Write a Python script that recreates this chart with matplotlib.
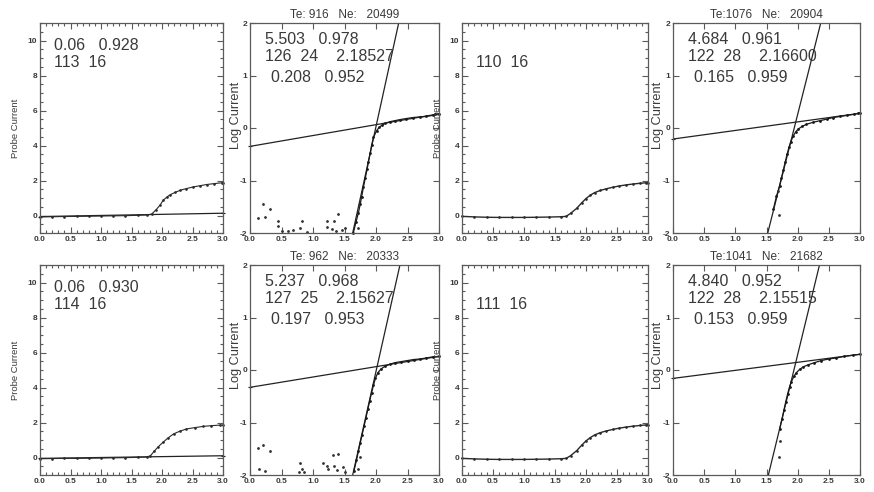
import matplotlib
matplotlib.use("Agg")
import matplotlib.pyplot as plt
from matplotlib.ticker import MultipleLocator, NullLocator

plt.rcParams['font.family'] = ['Liberation Sans', 'DejaVu Sans']
plt.rcParams['axes.unicode_minus'] = False

W, H = 874, 492

# ---------------- data ----------------
# Row 1, column 1 : probe current
lin_a_x = [0.0, 0.2, 0.4, 0.6, 0.8, 1.0, 1.2, 1.4, 1.6, 1.75, 1.83, 1.90, 1.97, 2.02, 2.08, 2.13, 2.22, 2.30, 2.40, 2.51, 2.62, 2.73, 2.85, 2.98, 3.0]
lin_a_y = [-0.08, -0.07, -0.06, -0.05, -0.04, -0.03, -0.02, -0.01, 0.01, 0.03, 0.08, 0.32, 0.60, 0.88, 1.05, 1.18, 1.33, 1.44, 1.54, 1.63, 1.70, 1.77, 1.82, 1.87, 1.88]
fit_a_x = [0.0, 3.0]
fit_a_y = [-0.06, 0.13]

# Row 1, column 3 : probe current
lin_c_x = [0.0, 0.2, 0.4, 0.6, 0.8, 1.0, 1.2, 1.4, 1.6, 1.68, 1.75, 1.85, 1.93, 2.0, 2.07, 2.14, 2.23, 2.33, 2.44, 2.54, 2.65, 2.76, 2.87, 2.97, 3.0]
lin_c_y = [-0.05, -0.08, -0.10, -0.11, -0.11, -0.11, -0.10, -0.09, -0.07, -0.05, 0.12, 0.41, 0.72, 0.97, 1.16, 1.31, 1.43, 1.53, 1.62, 1.69, 1.75, 1.80, 1.84, 1.87, 1.88]

# Row 2, column 1 : probe current
lin_e_x = [0.0, 0.2, 0.4, 0.6, 0.8, 1.0, 1.2, 1.4, 1.6, 1.75, 1.81, 1.87, 1.94, 2.02, 2.10, 2.19, 2.29, 2.40, 2.54, 2.68, 2.81, 2.95, 3.0]
lin_e_y = [-0.07, -0.06, -0.05, -0.05, -0.04, -0.03, -0.02, -0.01, 0.01, 0.03, 0.10, 0.35, 0.62, 0.88, 1.12, 1.35, 1.50, 1.63, 1.71, 1.78, 1.82, 1.85, 1.86]
fit_e_x = [0.0, 3.0]
fit_e_y = [-0.05, 0.10]

# Row 2, column 3 : probe current
lin_g_x = [0.0, 0.2, 0.4, 0.6, 0.8, 1.0, 1.2, 1.4, 1.6, 1.68, 1.75, 1.85, 1.93, 2.0, 2.07, 2.14, 2.23, 2.33, 2.44, 2.54, 2.65, 2.76, 2.87, 2.97, 3.0]
lin_g_y = [-0.05, -0.08, -0.10, -0.11, -0.11, -0.11, -0.10, -0.09, -0.07, -0.05, 0.10, 0.39, 0.70, 0.95, 1.14, 1.29, 1.42, 1.52, 1.61, 1.68, 1.74, 1.79, 1.83, 1.86, 1.87]

# Row 1, column 2 : log current
log_b_x = [1.64, 1.68, 1.72, 1.75, 1.77, 1.80, 1.83, 1.86, 1.88, 1.91, 1.93, 1.96, 2.01, 2.05, 2.09, 2.15, 2.22, 2.30, 2.38, 2.48, 2.59, 2.70, 2.80, 2.90, 2.94, 3.0]
log_b_y = [-2.0, -1.80, -1.62, -1.45, -1.32, -1.13, -0.95, -0.78, -0.64, -0.47, -0.33, -0.18, -0.05, 0.01, 0.05, 0.09, 0.12, 0.14, 0.16, 0.18, 0.20, 0.21, 0.22, 0.24, 0.26, 0.27]
scat_b_x = [0.13, 0.21, 0.31, 0.24, 0.45, 0.44, 0.50, 0.60, 0.69, 0.82, 0.79, 0.90, 1.22, 1.23, 1.30, 1.33, 1.40, 1.37, 1.46, 1.51, 1.72]
scat_b_y = [-1.72, -1.45, -1.55, -1.69, -1.77, -1.87, -1.96, -1.97, -1.95, -1.78, -1.90, -1.99, -1.77, -1.88, -1.93, -1.78, -1.64, -1.96, -1.95, -1.90, -1.90]
steep_b_x = [1.63, 2.36]
steep_b_y = [-2.0, 2.0]
flat_b_x = [0.0, 3.0]
flat_b_y = [-0.35, 0.27]

# Row 1, column 4 : log current
log_d_x = [1.61, 1.66, 1.71, 1.74, 1.77, 1.80, 1.83, 1.86, 1.89, 1.93, 1.97, 2.01, 2.07, 2.14, 2.25, 2.36, 2.47, 2.57, 2.68, 2.79, 2.90, 2.97, 3.0]
log_d_y = [-1.55, -1.30, -1.10, -0.95, -0.80, -0.65, -0.50, -0.37, -0.26, -0.15, -0.07, -0.02, 0.03, 0.07, 0.11, 0.14, 0.17, 0.20, 0.22, 0.24, 0.26, 0.28, 0.29]
scat_d_x = [1.70, 1.68]
scat_d_y = [-1.65, -1.20]
steep_d_x = [1.52, 2.37]
steep_d_y = [-2.0, 2.0]
flat_d_x = [0.0, 3.0]
flat_d_y = [-0.21, 0.28]

# Row 2, column 2 : log current
log_f_x = [1.65, 1.69, 1.72, 1.75, 1.78, 1.81, 1.84, 1.87, 1.90, 1.93, 1.96, 1.99, 2.03, 2.08, 2.14, 2.22, 2.30, 2.40, 2.50, 2.60, 2.70, 2.80, 2.90, 3.0]
log_f_y = [-1.92, -1.72, -1.55, -1.39, -1.23, -1.07, -0.91, -0.75, -0.59, -0.43, -0.29, -0.16, -0.05, 0.02, 0.07, 0.11, 0.14, 0.16, 0.18, 0.20, 0.21, 0.23, 0.25, 0.26]
scat_f_x = [0.13, 0.21, 0.31, 0.15, 0.24, 0.79, 0.82, 0.86, 0.77, 1.16, 1.22, 1.24, 1.32, 1.40, 1.33, 1.38, 1.48, 1.51, 1.72, 1.75]
scat_f_y = [-1.49, -1.42, -1.55, -1.88, -1.92, -1.77, -1.88, -1.94, -1.94, -1.77, -1.82, -1.88, -1.62, -1.60, -1.82, -1.90, -1.85, -1.94, -1.88, -1.66]
steep_f_x = [1.63, 2.38]
steep_f_y = [-2.0, 2.0]
flat_f_x = [0.0, 3.0]
flat_f_y = [-0.33, 0.26]

# Row 2, column 4 : log current
log_h_x = [1.71, 1.75, 1.78, 1.81, 1.84, 1.87, 1.90, 1.94, 1.98, 2.03, 2.09, 2.17, 2.27, 2.38, 2.50, 2.62, 2.75, 2.88, 3.0]
log_h_y = [-1.13, -0.93, -0.76, -0.60, -0.45, -0.32, -0.22, -0.12, -0.05, 0.01, 0.06, 0.10, 0.14, 0.18, 0.21, 0.23, 0.26, 0.28, 0.30]
scat_h_x = [1.70, 1.71]
scat_h_y = [-1.66, -1.35]
steep_h_x = [1.53, 2.35]
steep_h_y = [-2.0, 2.0]
flat_h_x = [0.0, 3.0]
flat_h_y = [-0.16, 0.30]

# annotation texts
ann_a = ["0.06   0.928", "113  16"]
ann_b = ["5.503   0.978", "126  24    2.18527", "0.208   0.952"]
ann_c = ["110  16"]
ann_d = ["4.684   0.961", "122  28    2.16600", "0.165   0.959"]
ann_e = ["0.06   0.930", "114  16"]
ann_f = ["5.237   0.968", "127  25    2.15627", "0.197   0.953"]
ann_g = ["111  16"]
ann_h = ["4.840   0.952", "122  28    2.15515", "0.153   0.959"]
title_b = "Te: 916   Ne:   20499"
title_d = "Te:1076   Ne:   20904"
title_f = "Te: 962   Ne:   20333"
title_h = "Te:1041   Ne:   21682"

# ---------------- figure ----------------
fig = plt.figure(figsize=(W / 100, H / 100), dpi=100)
fig.patch.set_facecolor('white')

FRAME = '#5a5a5a'
TXT = '#3a3a3a'


def add_ax(l, t, r, b):
    return fig.add_axes([l / W, 1 - b / H, (r - l) / W, (b - t) / H])


def style(ax, lin):
    for s in ax.spines.values():
        s.set_color(FRAME)
        s.set_linewidth(0.9)
    ax.set_xlim(0, 3)
    ax.xaxis.set_major_locator(MultipleLocator(0.5))
    ax.xaxis.set_major_formatter(plt.FuncFormatter(lambda v, p: f"{v:.1f}"))
    if lin:
        ax.set_ylim(-1, 11)
        ax.yaxis.set_major_locator(MultipleLocator(2))
        ax.xaxis.set_minor_locator(MultipleLocator(0.1))
        ax.yaxis.set_minor_locator(MultipleLocator(0.5))
    else:
        ax.set_ylim(-2, 2)
        ax.yaxis.set_major_locator(MultipleLocator(1))
        ax.xaxis.set_minor_locator(NullLocator())
        ax.yaxis.set_minor_locator(NullLocator())
    ax.tick_params(which='both', direction='in', top=True, right=True,
                   colors=FRAME, labelcolor=TXT, width=0.8)
    ax.tick_params(which='major', length=4, pad=2.0, labelsize=6)
    ax.tick_params(which='minor', length=2)
    for lab in ax.get_xticklabels() + ax.get_yticklabels():
        lab.set_fontweight('bold')


def ftext(x, y, s, **kw):
    fig.text(x / W, 1 - y / H, s, **kw)


cols = [(40, 223), (250, 439), (462, 648), (673, 860)]
rows = [(23, 233), (265, 475)]

lin_sets = {
    (0, 0): (lin_a_x, lin_a_y, fit_a_x, fit_a_y),
    (0, 2): (lin_c_x, lin_c_y, None, None),
    (1, 0): (lin_e_x, lin_e_y, fit_e_x, fit_e_y),
    (1, 2): (lin_g_x, lin_g_y, None, None),
}
log_sets = {
    (0, 1): (log_b_x, log_b_y, scat_b_x, scat_b_y, steep_b_x, steep_b_y, flat_b_x, flat_b_y),
    (0, 3): (log_d_x, log_d_y, scat_d_x, scat_d_y, steep_d_x, steep_d_y, flat_d_x, flat_d_y),
    (1, 1): (log_f_x, log_f_y, scat_f_x, scat_f_y, steep_f_x, steep_f_y, flat_f_x, flat_f_y),
    (1, 3): (log_h_x, log_h_y, scat_h_x, scat_h_y, steep_h_x, steep_h_y, flat_h_x, flat_h_y),
}
anns = {(0, 0): ann_a, (0, 1): ann_b, (0, 2): ann_c, (0, 3): ann_d,
        (1, 0): ann_e, (1, 1): ann_f, (1, 2): ann_g, (1, 3): ann_h}
titles = {(0, 1): title_b, (0, 3): title_d, (1, 1): title_f, (1, 3): title_h}

for ri, (t, b) in enumerate(rows):
    for ci, (l, r) in enumerate(cols):
        ax = add_ax(l, t, r, b)
        key = (ri, ci)
        if key in lin_sets:
            xs, ys, fx, fy = lin_sets[key]
            style(ax, True)
            if fx is not None:
                ax.plot(fx, fy, color='#222222', lw=0.9, clip_on=True)
                ax.plot(fx, fy, ls='none', marker='+', ms=3, mew=0.8, color='#222222', clip_on=False)
            ax.plot(xs, ys, color='#2a2a2a', lw=1.0 if fx is None else 0.8,
                    marker='.', ms=1.8, clip_on=False)
            ftext(l - 24.5, (t + b) / 2, "Probe Current", rotation=90, ha='center', va='center',
                  fontsize=6.8, color=TXT)
            lines = anns[key]
            if len(lines) == 2:
                ftext(l + 14, t + 22.5, lines[0], fontsize=11.5, color=TXT, va='center', ha='left')
                ftext(l + 14, t + 39.5, lines[1], fontsize=11.5, color=TXT, va='center', ha='left')
            else:
                ftext(l + 14, t + 39.5, lines[0], fontsize=11.5, color=TXT, va='center', ha='left')
        else:
            xs, ys, sx, sy, stx, sty, flx, fly = log_sets[key]
            style(ax, False)
            ax.plot(stx, sty, color='#222222', lw=0.9)
            ax.plot(flx, fly, color='#222222', lw=0.9)
            ax.plot(flx[:1], fly[:1], ls='none', marker='+', ms=3, mew=0.8, color='#222222', clip_on=False)
            ax.plot(xs, ys, color='#1a1a1a', lw=0.9, marker='.', ms=2.0, clip_on=False)
            ax.plot(sx, sy, ls='none', marker='.', ms=2.0, color='#333333', clip_on=False)
            ftext(l - 14.5, t + 92 if ri == 0 else t + 90, "Log Current", rotation=90, ha='center', va='center',
                  fontsize=9.2, color=TXT)
            ftext((l + r) / 2, t - 8.5, titles[key], fontsize=8.5, color=TXT, ha='center', va='center')
            lines = anns[key]
            dx = 15
            ftext(l + dx, t + 17, lines[0], fontsize=11.5, color=TXT, va='center', ha='left')
            ftext(l + dx, t + 33.5, lines[1], fontsize=11.5, color=TXT, va='center', ha='left')
            ftext(l + dx + 6, t + 54, lines[2], fontsize=11.5, color=TXT, va='center', ha='left')

fig.savefig("out.png", dpi=100, facecolor='white')
